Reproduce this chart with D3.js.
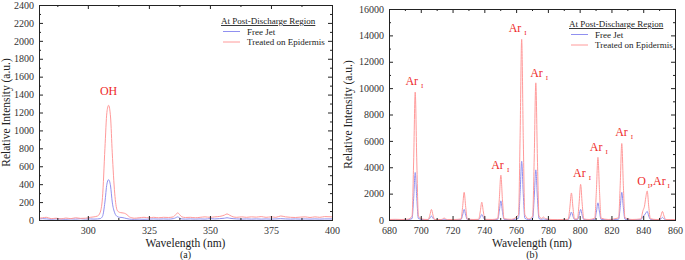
<!DOCTYPE html>
<html>
<head>
<meta charset="utf-8">
<script src="https://cdn.jsdelivr.net/npm/d3@7"></script>
<style>
  body { margin: 0; background: #fff; }
  svg { display: block; }
  svg text { font-family: "Liberation Serif", "DejaVu Serif", serif; }
</style>
</head>
<body>
<div id="chart"></div>
<script>
// ---- panel (a) data : OH band region ----
const wlA = [280, 281.5, 283, 285, 287, 289, 291, 293, 295, 297, 299, 301, 302.5, 304, 305, 306, 307, 307.8, 308.5, 309.3, 310, 311, 312, 313, 314, 315, 316, 317, 318, 319, 321, 323, 325, 327, 329, 331, 333, 335, 336, 336.8, 337.6, 338.5, 340, 342, 344, 346, 348, 350, 352, 354, 356, 357, 358, 359.5, 361, 363, 365, 367, 369, 371, 373, 375, 377, 379, 381, 383, 385, 387, 389, 391, 393, 395, 397, 400];
const epidermisA = [20, 25, 30, 15, 20, 12, 22, 15, 25, 18, 20, 30, 35, 45, 80, 250, 800, 1200, 1280, 1150, 750, 300, 110, 85, 80, 75, 60, 35, 25, 20, 25, 30, 25, 30, 25, 30, 28, 35, 60, 80, 60, 35, 28, 30, 25, 30, 35, 30, 35, 40, 55, 68, 55, 35, 30, 35, 30, 35, 32, 38, 30, 35, 30, 45, 35, 30, 28, 32, 35, 28, 35, 30, 38, 35];
const freeJetA = [10, 15, 12, 8, 12, 10, 8, 12, 10, 14, 10, 12, 10, 12, 15, 40, 200, 400, 450, 380, 200, 80, 40, 30, 28, 22, 15, 10, 8, 8, 10, 8, 10, 12, 10, 12, 10, 15, 25, 35, 22, 12, 10, 12, 10, 12, 10, 15, 12, 15, 20, 25, 20, 15, 12, 10, 12, 10, 12, 10, 12, 10, 12, 15, 12, 10, 12, 10, 12, 10, 12, 10, 12, 12];
const xTicksA = [300, 325, 350, 375, 400];
const xMinorA = [287.5, 312.5, 337.5, 362.5, 387.5];
const yTicksA = [0, 200, 400, 600, 800, 1000, 1200, 1400, 1600, 1800, 2000, 2200, 2400];
const yMinorA = [100, 300, 500, 700, 900, 1100, 1300, 1500, 1700, 1900, 2100, 2300];
const labelsA = [{ wl: 308.5, y: 1400, main: "OH", sub: "" }];

// ---- panel (b) data : Ar I / O I lines ----
const wlB = [680, 684, 688, 692, 694.5, 695.5, 696.5, 697.5, 698.5, 702, 704.7, 705.7, 706.7, 707.7, 708.7, 712.7, 713.7, 714.7, 715.7, 716.7, 721, 725.3, 726.3, 727.3, 728.3, 729.3, 733, 736.4, 737.4, 738.4, 739.4, 740.4, 745, 748.4, 749.4, 750.4, 751.4, 752.4, 757, 761.5, 762.5, 763.5, 764.5, 765.5, 768, 770.4, 771.4, 772.4, 773.4, 774.4, 776, 777.2, 778.5, 782, 786, 790, 792.8, 793.8, 794.8, 795.8, 796.8, 798.6, 799.6, 800.6, 801.6, 802.6, 806, 809.5, 810.5, 811.5, 812.5, 813.5, 818, 824.5, 825.5, 826.5, 827.5, 828.5, 833, 838.5, 839.8, 840.8, 841.6, 842.5, 843.5, 844.5, 848, 850.1, 851.1, 852.1, 853.1, 854.1, 857, 860];
const epidermisB = [40, 50, 40, 60, 290, 4400, 9700, 4400, 290, 50, 40, 360, 800, 360, 40, 40, 70, 150, 70, 40, 40, 70, 950, 2100, 950, 70, 40, 50, 610, 1350, 610, 50, 40, 100, 1530, 3400, 1530, 100, 50, 400, 6200, 13700, 6200, 400, 80, 300, 4700, 10400, 4700, 300, 120, 220, 100, 40, 30, 40, 60, 920, 2050, 920, 80, 80, 1200, 2700, 1200, 80, 40, 140, 2150, 4750, 2150, 140, 40, 170, 2600, 5800, 2600, 170, 40, 80, 700, 1050, 1700, 2200, 1000, 100, 40, 40, 300, 650, 300, 40, 30, 30];
const freeJetB = [20, 25, 20, 30, 110, 1620, 3600, 1620, 110, 25, 20, 135, 300, 135, 20, 20, 30, 60, 30, 20, 20, 30, 360, 800, 360, 30, 20, 20, 190, 420, 190, 20, 20, 45, 650, 1450, 650, 45, 20, 130, 2000, 4450, 2000, 130, 30, 110, 1700, 3800, 1700, 110, 50, 80, 40, 20, 15, 20, 25, 270, 600, 270, 30, 30, 360, 800, 360, 30, 20, 40, 590, 1300, 590, 40, 20, 60, 950, 2100, 950, 60, 20, 30, 250, 380, 520, 650, 300, 40, 20, 20, 90, 200, 90, 20, 15, 15];
const xTicksB = [680, 700, 720, 740, 760, 780, 800, 820, 840, 860];
const xMinorB = [690, 710, 730, 750, 770, 790, 810, 830, 850];
const yTicksB = [0, 2000, 4000, 6000, 8000, 10000, 12000, 14000, 16000];
const yMinorB = [1000, 3000, 5000, 7000, 9000, 11000, 13000, 15000];
const labelsB = [
    { wl: 696, y: 10200, main: "Ar", sub: "I" },
    { wl: 761, y: 14250, main: "Ar", sub: "I" },
    { wl: 774.5, y: 10850, main: "Ar", sub: "I" },
    { wl: 750, y: 3900, main: "Ar", sub: "I" },
    { wl: 801.5, y: 3250, main: "Ar", sub: "I" },
    { wl: 812, y: 5200, main: "Ar", sub: "I" },
    { wl: 828, y: 6350, main: "Ar", sub: "I" }
];

const seriesNames = ["Free Jet", "Treated on Epidermis"];
const seriesColors = ["#9090f0", "#ff9a9a"];
const legendTitle = "At Post-Discharge Region";
const labelColor = "#ee2a2a";
const serif = "Liberation Serif";

const width = 685;
const height = 260;

const svg = d3.select("#chart")
    .append("svg")
    .attr("width", width)
    .attr("height", height)
    .attr("font-family", serif);

function drawPanel(p) {
    const g = svg.append("g");

    const xScale = d3.scaleLinear().domain(p.xDomain).range([p.left, p.right]);
    const yScale = d3.scaleLinear().domain(p.yDomain).range([p.bottom, p.top]);

    // spectra: free jet first, epidermis on top
    const line = d3.line()
        .curve(d3.curveMonotoneX)
        .x(d => xScale(d[0]))
        .y(d => yScale(d[1]));

    [p.free, p.epi].forEach((vals, i) => {
        g.append("path")
            .datum(p.wl.map((w, k) => [w, vals[k]]))
            .attr("fill", "none")
            .attr("stroke", seriesColors[i])
            .attr("stroke-width", 1)
            .attr("d", line);
    });

    // axes with inward ticks, mirrored on top and right
    const fmt = d3.format("d");
    const axes = [
        { ax: d3.axisBottom(xScale), tr: `translate(0,${p.bottom})`, major: p.xTicks, minor: p.xMinor, labels: true, pad: 7 },
        { ax: d3.axisTop(xScale), tr: `translate(0,${p.top})`, major: p.xTicks, minor: p.xMinor, labels: false, pad: 3 },
        { ax: d3.axisLeft(yScale), tr: `translate(${p.left},0)`, major: p.yTicks, minor: p.yMinor, labels: true, pad: 5 },
        { ax: d3.axisRight(yScale), tr: `translate(${p.right},0)`, major: p.yTicks, minor: p.yMinor, labels: false, pad: 3 }
    ];
    axes.forEach(a => {
        const major = g.append("g")
            .attr("transform", a.tr)
            .call(a.ax.tickValues(a.major).tickSizeInner(-4).tickSizeOuter(0).tickPadding(a.pad)
                .tickFormat(a.labels ? fmt : ""));
        major.attr("font-family", serif);
        major.select(".domain").remove();
        major.selectAll("line").attr("stroke", "#222");
        major.selectAll("text")
            .attr("font-family", serif)
            .style("font-size", "10px")
            .attr("fill", "#333");

        const minor = g.append("g")
            .attr("transform", a.tr)
            .call(a.ax.tickValues(a.minor).tickSizeInner(-2).tickSizeOuter(0).tickFormat(""));
        minor.select(".domain").remove();
        minor.selectAll("line").attr("stroke", "#222");
    });

    // frame
    g.append("rect")
        .attr("x", p.left + 0.5)
        .attr("y", p.top + 0.5)
        .attr("width", p.right - p.left)
        .attr("height", p.bottom - p.top)
        .attr("fill", "none")
        .attr("stroke", "#222")
        .attr("stroke-width", 1);

    // axis titles
    g.append("text")
        .attr("text-anchor", "middle")
        .attr("x", (p.left + p.right) / 2)
        .attr("y", p.bottom + 27)
        .attr("font-family", serif)
        .style("font-size", "11.5px")
        .attr("fill", "#222")
        .text("Wavelength (nm)");

    g.append("text")
        .attr("text-anchor", "middle")
        .attr("x", (p.left + p.right) / 2)
        .attr("y", p.bottom + 38)
        .attr("font-family", serif)
        .style("font-size", "10px")
        .attr("fill", "#222")
        .text(p.tag);

    g.append("text")
        .attr("text-anchor", "middle")
        .attr("transform", `translate(${p.yTitleX}, ${(p.top + p.bottom) / 2}) rotate(-90)`)
        .attr("font-family", serif)
        .style("font-size", "11.5px")
        .attr("fill", "#222")
        .text("Relative Intensity (a.u.)");

    // peak labels
    p.labels.forEach(l => {
        const t = g.append("text")
            .attr("text-anchor", "middle")
            .attr("x", xScale(l.wl))
            .attr("y", yScale(l.y))
            .attr("fill", labelColor)
            .attr("font-family", serif)
            .style("font-size", "12px")
            .text(l.main);
        if (l.sub) {
            t.append("tspan").text(" ");
            t.append("tspan")
                .attr("dy", 3)
                .style("font-size", "7px")
                .text(l.sub);
        }
    });
    if (p.extraLabel) {
        const e = p.extraLabel;
        const t = g.append("text")
            .attr("text-anchor", "middle")
            .attr("x", xScale(e.wl))
            .attr("y", yScale(e.y))
            .attr("fill", labelColor)
            .attr("font-family", serif)
            .style("font-size", "12px");
        t.append("tspan").text("O");
        t.append("tspan").attr("dy", 3).style("font-size", "7px").text(" I");
        t.append("tspan").attr("dy", -3).text(",Ar");
        t.append("tspan").attr("dy", 3).style("font-size", "7px").text(" I");
    }

    // legend
    const lg = g.append("g").attr("transform", `translate(${p.legendX}, ${p.legendY})`);
    lg.append("text")
        .attr("x", 0)
        .attr("y", 0)
        .attr("font-family", serif)
        .style("font-size", "9px")
        .style("text-decoration", "underline")
        .attr("fill", "#222")
        .text(legendTitle);
    seriesNames.forEach((name, i) => {
        const yy = 10.5 + i * 10.5;
        lg.append("line")
            .attr("x1", 2).attr("x2", 19)
            .attr("y1", yy - 3).attr("y2", yy - 3)
            .attr("stroke", seriesColors[i])
            .attr("stroke-width", 1);
        lg.append("text")
            .attr("x", 26)
            .attr("y", yy)
            .attr("font-family", serif)
            .style("font-size", "9px")
            .attr("fill", "#222")
            .text(name);
    });
}

drawPanel({
    wl: wlA, free: freeJetA, epi: epidermisA,
    xDomain: [280, 400], yDomain: [0, 2400],
    xTicks: xTicksA, xMinor: xMinorA, yTicks: yTicksA, yMinor: yMinorA,
    left: 39, right: 332, top: 5, bottom: 220,
    yTitleX: 10, tag: "(a)", labels: labelsA,
    legendX: 221, legendY: 24
});

drawPanel({
    wl: wlB, free: freeJetB, epi: epidermisB,
    xDomain: [680, 860], yDomain: [0, 16000],
    xTicks: xTicksB, xMinor: xMinorB, yTicks: yTicksB, yMinor: yMinorB,
    left: 389, right: 675, top: 9, bottom: 220,
    yTitleX: 352, tag: "(b)", labels: labelsB,
    extraLabel: { wl: 846.5, y: 2650 },
    legendX: 569, legendY: 27
});
</script>
</body>
</html>
